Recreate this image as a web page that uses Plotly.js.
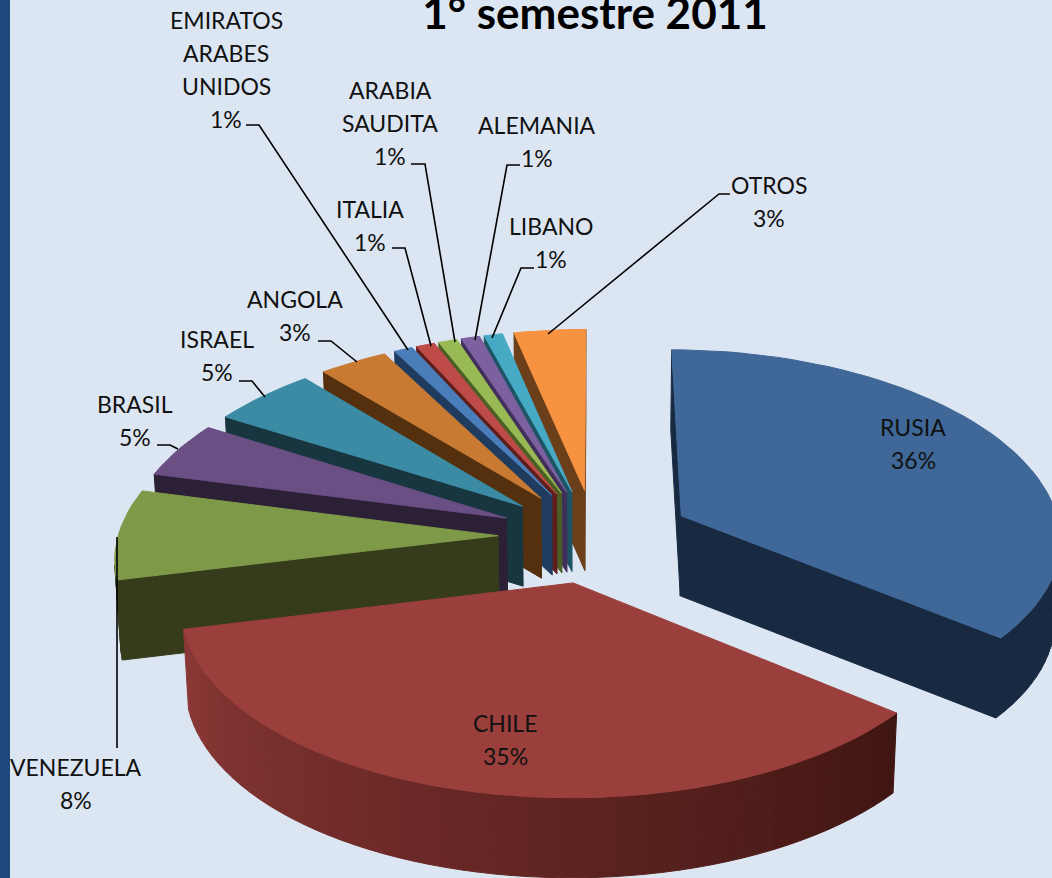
<!DOCTYPE html>
<html><head><meta charset="utf-8">
<script src="https://cdn.plot.ly/plotly-3.0.1.min.js"></script>
<style>html,body{margin:0;padding:0;background:#dce6f2}#c{width:1052px;height:878px}</style>
</head><body><div id="c"></div>
<script>
var categories = ["RUSIA","CHILE","VENEZUELA","BRASIL","ISRAEL","ANGOLA","EMIRATOS ARABES UNIDOS","ITALIA","ARABIA SAUDITA","ALEMANIA","LIBANO","OTROS"];
var shares = [35.6,35.4,7.6,4.7,5,3.3,0.9,0.9,0.9,0.9,0.9,3.49];
var topColors = ["#3f6797","#9a3f3b","#7e9a48","#6a4f84","#3a8ba3","#c87a33","#4a7ebb","#be4b48","#98b954","#7d60a0","#46aac5","#f69240"];
var sideColors = ["#182a42","#3f1512","#353b1b","#2b2036","#17363f","#54300f","#1f3b5e","#5e1f1c","#4b5f25","#3f2f5a","#1e5566","#6b3f1a"];
var labelLines = [["RUSIA","36%"],["CHILE","35%"],["VENEZUELA","8%"],["BRASIL","5%"],["ISRAEL","5%"],["ANGOLA","3%"],["EMIRATOS","ARABES","UNIDOS","1%"],["ITALIA","1%"],["ARABIA","SAUDITA","1%"],["ALEMANIA","1%"],["LIBANO","1%"],["OTROS","3%"]];
var labelAnchor = [[913,427],[505,723],[76,767],[135,404],[217,339],[295,299],[226,20],[370,209],[390,90],[537,125],[551,226],[769,185]];
var leaders = [null,null,[[117,748],[117,537]],[[157,445],[170,445],[178,449]],[[239,381],[252,381],[265,397]],[[318,341],[331,341],[357,362]],[[246,125],[259,125],[408,350]],[[392,248],[405,248],[431,346]],[[411,164],[425,164],[455,342]],[[520,165],[507,165],[475,340]],[[534,268],[521,268],[492,338]],[[730,194],[719,194],[548,334]]];

// projection of an exploded, tilted pie
var CX=595, CY=536, RX=380, RY=188, KX=0.11, KY=0.096, EXPLODE_X=0.255, EXPLODE_Y=0.25, DROP=80, SHRINK=0.988;
function proj(X,Y,low){
  var x=CX+RX*X*(1+KX*Y), y=CY+RY*Y*(1+KY*Y);
  if(low){ x=CX+(x-CX)*SHRINK; y+=DROP; }
  return [x,y];
}
function hex(c){return [1,3,5].map(function(i){return parseInt(c.substr(i,2),16);});}
function mix(a,b,t){var A=hex(a),B=hex(b);return "rgb("+A.map(function(v,i){return Math.round(v+(B[i]-v)*t);}).join(",")+")";}
var total=shares.reduce(function(a,b){return a+b;},0);
var traces=[];
function poly(pts,color){
  traces.push({type:"scatter",mode:"lines",x:pts.map(function(p){return p[0];}).concat([pts[0][0]]),y:pts.map(function(p){return p[1];}).concat([pts[0][1]]),
    fill:"toself",fillcolor:color,line:{color:color,width:1},hoverinfo:"skip",showlegend:false});
}
function area(p){var s=0;for(var i=0;i<p.length;i++){var q=p[(i+1)%p.length];s+=p[i][0]*q[1]-q[0]*p[i][1];}return s/2;}
var slices=[],acc=0;
shares.forEach(function(v,i){
  var a0=acc/total*2*Math.PI; acc+=v; var a1=acc/total*2*Math.PI; var m=(a0+a1)/2;
  slices.push({i:i,a0:a0,a1:a1,ex:EXPLODE_X*Math.sin(m),ey:-EXPLODE_Y*Math.cos(m)});
});
function drawSlice(s){
  var n=Math.max(6,Math.round((s.a1-s.a0)/0.04));
  var top=[proj(s.ex,s.ey,false)], low=[proj(s.ex,s.ey,true)], ang=[];
  for(var k=0;k<=n;k++){var a=s.a0+(s.a1-s.a0)*k/n; ang.push(a);
    top.push(proj(s.ex+Math.sin(a),s.ey-Math.cos(a),false));
    low.push(proj(s.ex+Math.sin(a),s.ey-Math.cos(a),true));}
  var side=sideColors[s.i];
  // radial walls, only those facing the viewer
  var w0=[top[0],top[1],low[1],low[0]], w1=[top[0],low[0],low[n+1],top[n+1]];
  if(area(w0)<0) poly(w0,side);
  if(area(w1)<0) poly(w1,side);
  // rim in facets, shaded along the arc on the big front slice
  for(k=1;k<=n;k++){
    var q=[top[k],top[k+1],low[k+1],low[k]];
    if(area(q)<0){
      var c=side;
      if(s.i===1){var t=(ang[k]-s.a0)/(s.a1-s.a0); c=mix("#3f1512","#8a3835",t);}
      poly(q,c);
    }
  }
  poly(top,topColors[s.i]);
}
// painter's order: back first, front last
[11,10,9,8,7,6,5,4,3,2,0,1].forEach(function(i){drawSlice(slices[i]);});
leaders.forEach(function(l){ if(!l) return;
  traces.push({type:"scatter",mode:"lines",x:l.map(function(p){return p[0];}),y:l.map(function(p){return p[1];}),line:{color:"#000",width:1.6},hoverinfo:"skip",showlegend:false});
});
var LINE=33, anns=[];
labelLines.forEach(function(ls,i){ ls.forEach(function(t,j){
  anns.push({x:labelAnchor[i][0],y:labelAnchor[i][1]+j*LINE,xref:"x",yref:"y",text:t,showarrow:false,xanchor:"center",yanchor:"middle",font:{family:"Lato, Carlito, sans-serif",size:23,color:"#111"}});
});});
var layout={width:1052,height:878,margin:{l:0,r:0,t:0,b:0},paper_bgcolor:"#dce6f2",plot_bgcolor:"#dce6f2",showlegend:false,
  title:{text:"<b>1° semestre 2011</b>",x:595/1052,xanchor:"center",y:1-14/878,yanchor:"middle",font:{family:"Lato, Carlito, sans-serif",size:44,color:"#000"}},
  xaxis:{range:[0,1052],visible:false,fixedrange:true},yaxis:{range:[878,0],visible:false,fixedrange:true},
  annotations:anns,
  shapes:[{type:"rect",xref:"paper",yref:"paper",x0:0,x1:10/1052,y0:0,y1:1,fillcolor:"#1f497d",line:{width:0},layer:"above"}]};
Plotly.newPlot("c",traces,layout,{displayModeBar:false,responsive:false});
</script></body></html>
